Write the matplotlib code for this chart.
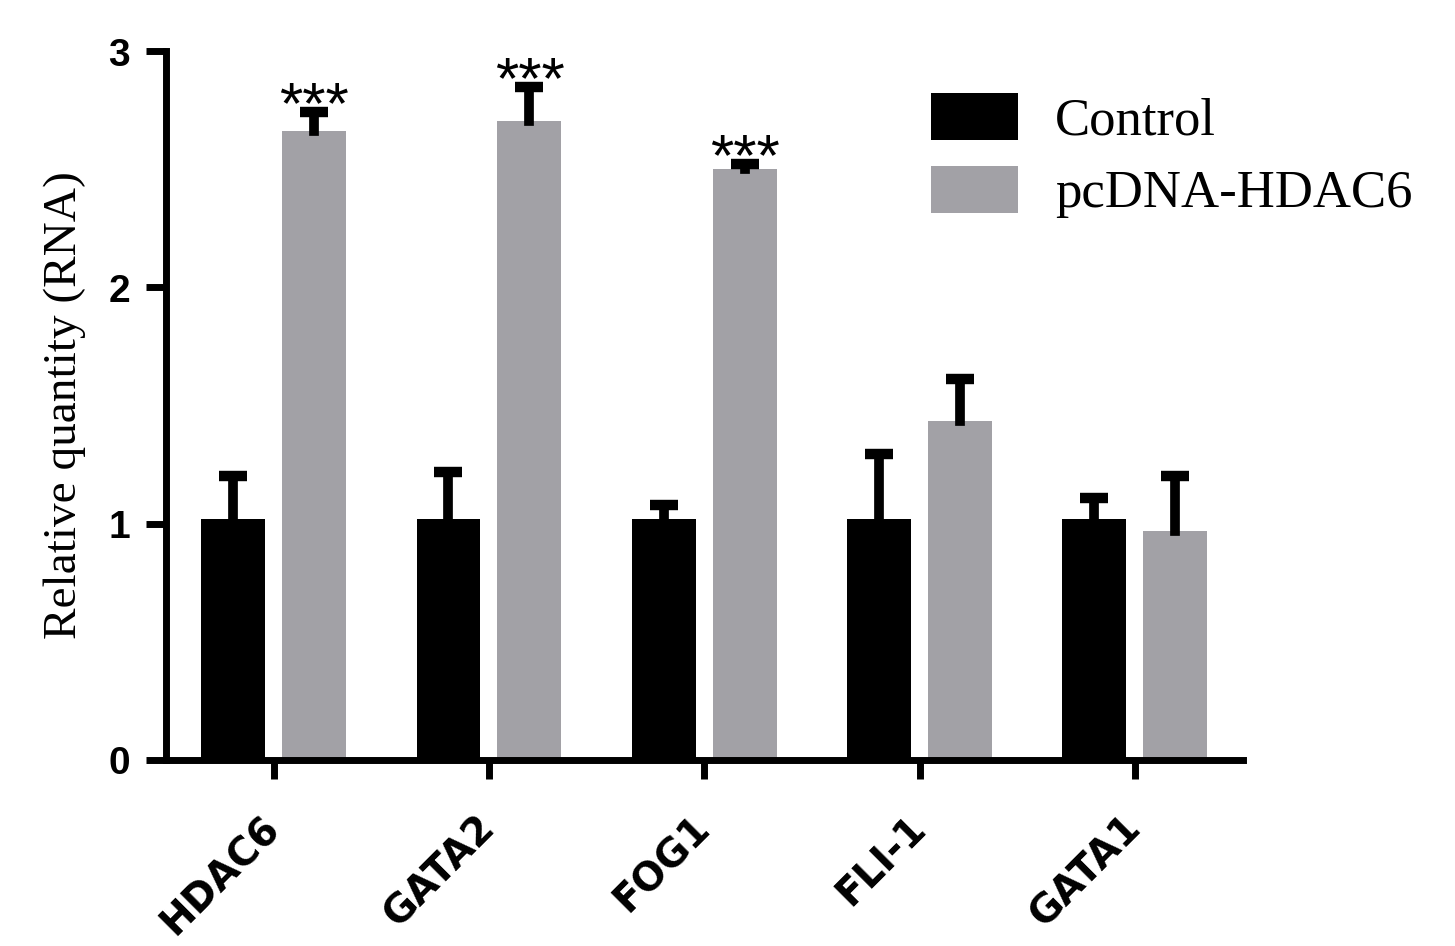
"""Relative RNA quantity: control vs pcDNA-HDAC6"""
import matplotlib.pyplot as plt
import numpy as np

genes = ['HDAC6', 'GATA2', 'FOG1', 'FLI-1', 'GATA1']
control_mean = [1.02, 1.02, 1.02, 1.02, 1.02]
control_err = [0.18, 0.20, 0.06, 0.275, 0.09]
hdac6_mean = [2.663, 2.707, 2.502, 1.436, 0.969]
hdac6_err = [0.081, 0.143, 0.021, 0.178, 0.234]
stars = ['***', '***', '***', '', '']
series_names = ['Control', 'pcDNA-HDAC6']
yticks = [0, 1, 2, 3]

grey = '#a2a1a6'

fig = plt.figure(figsize=(14.55, 9.46), dpi=100)
# axes placed in pixel terms of the 1455x946 canvas
ax = fig.add_axes([166 / 1455, 1 - 759.5 / 946, 1076.5 / 1455, 708 / 946])

x = np.arange(len(genes))
width = 0.297
offset = 0.188


def draw_group(xpos, mean, err, color, label):
    """Bars with upper-only error bars (stem + top cap)"""
    ax.bar(xpos, mean, width, color=color, label=label, zorder=2)
    eb = ax.errorbar(xpos, mean, yerr=[np.zeros(len(err)), err], fmt='none',
                     ecolor='black', elinewidth=7, capsize=10, capthick=7.5,
                     zorder=3)
    # hide the lower caps, keep the upper ones
    eb[1][0].set_visible(False)
    eb[2][0].set_capstyle('projecting')


draw_group(x - offset, control_mean, control_err, 'black', series_names[0])
draw_group(x + offset, hdac6_mean, hdac6_err, grey, series_names[1])

# significance stars above the treated bars
for i in range(len(genes)):
    if stars[i]:
        top = hdac6_mean[i] + hdac6_err[i]
        ax.annotate(stars[i], xy=(x[i] + offset, top), xytext=(0, -8),
                    textcoords='offset points', ha='center', va='baseline',
                    fontsize=43, family='Liberation Sans')

ax.set_xlim(-0.5, 4.5)
ax.set_ylim(0, 3)
ax.set_yticks(yticks)
ax.set_xticks(x)

for side in ['top', 'right']:
    ax.spines[side].set_visible(False)
for side in ['left', 'bottom']:
    ax.spines[side].set_linewidth(5)

ax.tick_params(axis='y', direction='out', length=14.4, width=5, pad=11.5)
ax.tick_params(axis='x', direction='out', length=14, width=5, pad=31)
ax.set_yticklabels([str(t) for t in yticks], fontsize=28, fontweight='bold',
                   family='Liberation Sans')
ax.set_xticklabels(genes, rotation=45, ha='right', va='center',
                   rotation_mode='anchor', fontsize=28, fontweight='bold',
                   family='DejaVu Sans')

ax.set_ylabel('Relative quantity (RNA)', fontsize=34, family='Liberation Serif')
ax.yaxis.set_label_coords(-0.074, 0.5)

ax.legend(loc='upper left', bbox_to_anchor=(931 / 1455, 1 - 93 / 946),
          bbox_transform=fig.transFigure, frameon=False,
          prop={'family': 'Liberation Serif', 'size': 38},
          handlelength=1.65, handleheight=1.0, handletextpad=0.7,
          labelspacing=0.38, borderpad=0, borderaxespad=0)

fig.savefig('out.png', dpi=100)
